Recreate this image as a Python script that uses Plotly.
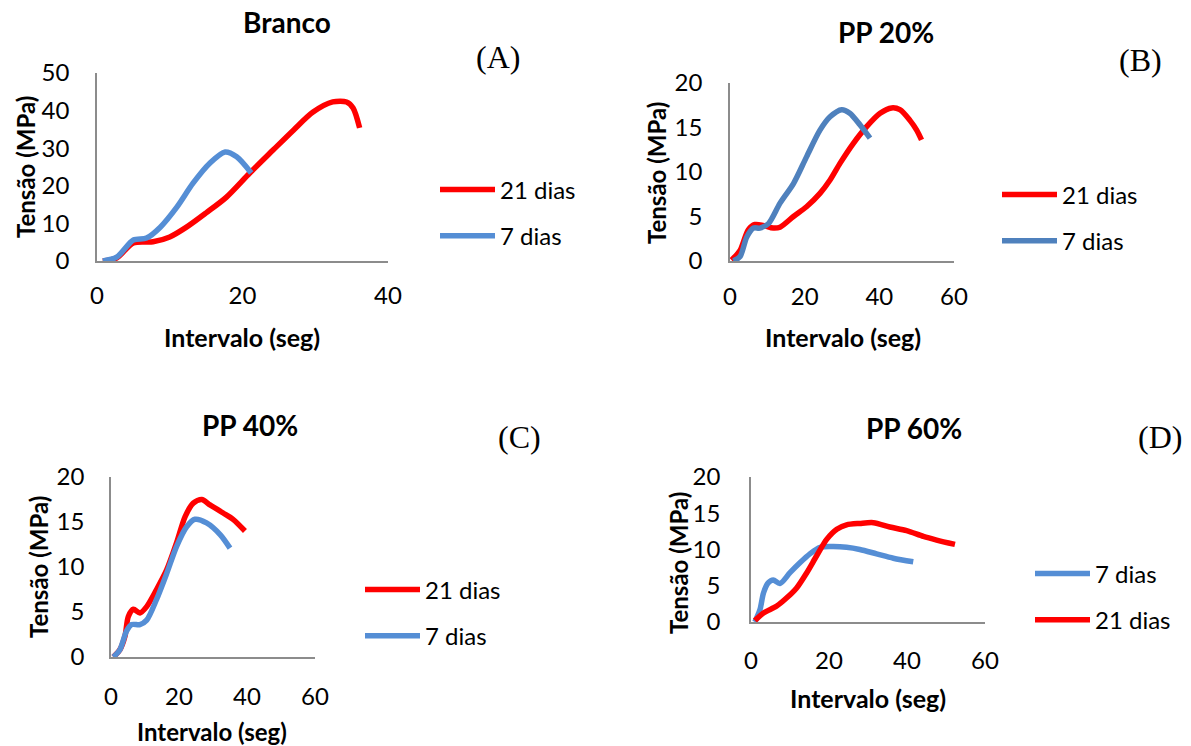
import plotly.graph_objects as go

W, H = 1191, 746

# ---------------- data ----------------
a21_x = [0.8, 2.7, 5, 7.7, 10, 12.3, 15, 17.8, 21, 24.2, 27, 29.7, 32.4, 34.3, 35.2, 36.1]
a21_y = [0, 0.8, 4.8, 5.1, 6.4, 9, 12.8, 17, 23.4, 29.5, 34.8, 39.6, 42.3, 42.3, 40.7, 35.4]
a7_x = [0.8, 2.7, 5, 6.8, 8.7, 11, 13.2, 15.5, 17.6, 19.2, 21.2]
a7_y = [0, 1, 5.6, 6.1, 9, 14.4, 20.7, 26, 29, 27.7, 23.4]

b21_x = [0.4, 2.7, 4.9, 6.7, 8.9, 11.6, 13.4, 17, 20.5, 24.1, 26.8, 29.5, 33, 36.6, 40.2, 43.3, 45.5, 48.2, 50, 51.3]
b21_y = [0.1, 1.2, 3.5, 4.1, 4.0, 3.7, 3.8, 5.0, 6.1, 7.6, 9.1, 11, 13.2, 15.1, 16.6, 17.2, 17.0, 15.8, 14.7, 13.6]
b7_x = [0.9, 2.7, 4.5, 6.3, 8, 10.3, 13.4, 17, 20.5, 24.1, 26.8, 29.9, 32.1, 34.8, 37.5]
b7_y = [0, 0.5, 2.7, 3.7, 3.7, 4.2, 6.5, 8.7, 11.7, 14.7, 16.2, 17.0, 16.6, 15.3, 13.8]

c21_x = [0.7, 2.6, 4.1, 5.1, 6.6, 8.5, 10.5, 13.4, 16.4, 19.3, 21.8, 24.2, 26.7, 29.1, 33, 35.9, 39.4]
c21_y = [0, 0.8, 2.3, 4.5, 5.3, 4.9, 5.6, 7.5, 9.7, 12.7, 15.6, 17.1, 17.5, 16.9, 16, 15.3, 14.0]
c7_x = [0.7, 2.6, 4.6, 6.1, 8.5, 10.5, 13.4, 16.4, 19.3, 22.3, 24.7, 28.1, 32.1, 35]
c7_y = [0, 0.8, 2.9, 3.6, 3.6, 4.1, 6.4, 9.3, 12.3, 14.5, 15.3, 14.9, 13.6, 12.1]

d7_x = [1, 2.3, 3.2, 4.4, 5.7, 7.4, 10, 12.6, 15.1, 17.7, 21.1, 24.5, 27.9, 32.2, 36.5, 41.6]
d7_y = [0, 1.7, 4, 5.4, 5.8, 5.3, 6.8, 8.2, 9.4, 10.3, 10.4, 10.3, 10.0, 9.4, 8.8, 8.3]
d21_x = [1, 3.2, 6.6, 9.1, 11.7, 14.3, 16.8, 19.4, 22, 24.5, 27.9, 31.4, 35.6, 39.9, 44.2, 47.6, 52.3]
d21_y = [0.2, 1.25, 2.2, 3.3, 4.7, 6.8, 9.1, 11.4, 12.8, 13.4, 13.6, 13.7, 13.1, 12.6, 11.8, 11.3, 10.7]

panel_titles = ["Branco", "PP 20%", "PP 40%", "PP 60%"]
panel_letters = ["(A)", "(B)", "(C)", "(D)"]
x_title = "Intervalo (seg)"
y_title = "Tensão (MPa)"
label21 = "21 dias"
label7 = "7 dias"

RED = "#FF0000"
BLUE = "#558ED5"
BLUE_B = "#4F81BD"
AXC = "#8C8C8C"
FONT = "Lato"

def px(x):
    return x / W

def py(y):
    return 1 - y / H

fig = go.Figure()

def add(xs, ys, name, color, axis_id, legend_id, group):
    fig.add_trace(go.Scatter(
        x=xs, y=ys, name=name, mode="lines",
        line=dict(color=color, width=5.5, shape="spline", smoothing=0.8),
        xaxis="x" + axis_id, yaxis="y" + axis_id,
        legend=legend_id, legendgroup=group,
    ))

add(a21_x, a21_y, label21, RED, "", "legend", "a1")
add(a7_x, a7_y, label7, BLUE, "", "legend", "a2")
add(b21_x, b21_y, label21, RED, "2", "legend2", "b1")
add(b7_x, b7_y, label7, BLUE_B, "2", "legend2", "b2")
add(c21_x, c21_y, label21, RED, "3", "legend3", "c1")
add(c7_x, c7_y, label7, BLUE, "3", "legend3", "c2")
add(d7_x, d7_y, label7, BLUE, "4", "legend4", "d1")
add(d21_x, d21_y, label21, RED, "4", "legend4", "d2")

# panel geometry in pixels: (x0, x1, ybottom, ytop)
geo = [
    (97, 388, 261, 73),
    (730, 954, 261, 83),
    (111, 315, 657, 477),
    (751, 985, 622, 477),
]
ranges = [([0, 40], [0, 50], 20, 10), ([0, 60], [0, 20], 20, 5),
          ([0, 60], [0, 20], 20, 5), ([0, 60], [0, 20], 20, 5)]
xstand = [12, 13, 17, 16]
ystand = [21, 21, 20, 24]

layout = dict(
    width=W, height=H, margin=dict(l=0, r=0, t=0, b=0, autoexpand=False),
    paper_bgcolor="white", plot_bgcolor="white",
    font=dict(family=FONT, size=24, color="black"),
)
for i, ((x0, x1, yb, yt), (xr, yr, dx, dy)) in enumerate(zip(geo, ranges)):
    sfx = "" if i == 0 else str(i + 1)
    layout["xaxis" + sfx] = dict(
        domain=[px(x0), px(x1)], range=xr, dtick=dx, tick0=0,
        anchor="y" + sfx, showline=True, linecolor=AXC, linewidth=1.5,
        showgrid=False, zeroline=False, ticks="", fixedrange=True, automargin=False,
        ticklabelstandoff=xstand[i], tickfont=dict(size=24),
    )
    layout["yaxis" + sfx] = dict(
        domain=[py(yb), py(yt)], range=yr, dtick=dy, tick0=0,
        anchor="x" + sfx, showline=True, linecolor=AXC, linewidth=1.5,
        showgrid=False, zeroline=False, ticks="", fixedrange=True, automargin=False,
        ticklabelstandoff=ystand[i], tickfont=dict(size=24),
    )

# legends: (line start x, middle y)
leg_pos = [(445, 213), (1007, 218), (370, 613), (1040, 597)]
for i, (lx, ly) in enumerate(leg_pos):
    key = "legend" if i == 0 else "legend" + str(i + 1)
    layout[key] = dict(
        x=px(lx - 10), y=py(ly), xanchor="left", yanchor="middle",
        bgcolor="rgba(0,0,0,0)", borderwidth=0,
        font=dict(family=FONT, size=24, color="black"),
        traceorder="grouped", tracegroupgap=12, itemwidth=55,
    )

fig.update_layout(**layout)

ann = []
title_pos = [(287, 22), (886, 32), (250, 425), (914, 428)]
letter_pos = [(498, 57), (1140, 60), (519, 437), (1160, 437)]
xt_pos = [(242, 337), (843, 337), (212, 731), (868, 698)]
yt_pos = [(25, 167), (656, 173), (38, 567), (678, 563)]
for i in range(4):
    ann.append(dict(text="<b>" + panel_titles[i] + "</b>", x=px(title_pos[i][0]), y=py(title_pos[i][1]),
                    xref="paper", yref="paper", showarrow=False, xanchor="center", yanchor="middle",
                    font=dict(family=FONT, size=28, color="black")))
    ann.append(dict(text=panel_letters[i], x=px(letter_pos[i][0]), y=py(letter_pos[i][1]),
                    xref="paper", yref="paper", showarrow=False, xanchor="center", yanchor="middle",
                    font=dict(family="Liberation Serif", size=32, color="black")))
    ann.append(dict(text="<b>" + x_title + "</b>", x=px(xt_pos[i][0]), y=py(xt_pos[i][1]),
                    xref="paper", yref="paper", showarrow=False, xanchor="center", yanchor="middle",
                    font=dict(family=FONT, size=24 if i == 2 else 25, color="black")))
    ann.append(dict(text="<b>" + y_title + "</b>", x=px(yt_pos[i][0]), y=py(yt_pos[i][1]),
                    xref="paper", yref="paper", showarrow=False, xanchor="center", yanchor="middle",
                    textangle=-90, font=dict(family=FONT, size=24, color="black")))
fig.update_layout(annotations=ann)

fig.write_html("out.html", config={"displayModeBar": False},
               post_script="document.body.style.margin='0px';document.body.style.overflow='hidden';")
